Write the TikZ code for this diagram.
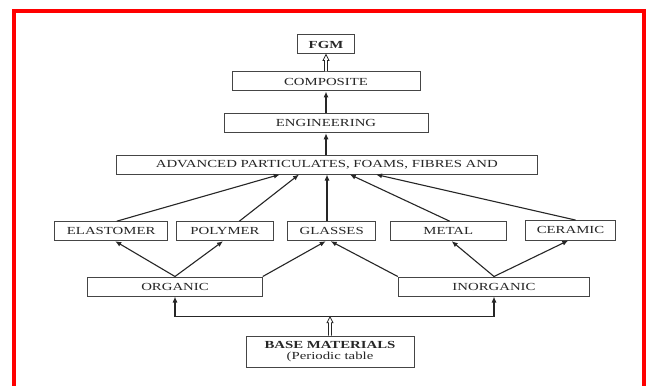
\documentclass[tikz,border=0pt]{standalone}
\usepackage{fontspec}
\setmainfont{Liberation Serif}[FakeStretch=1.37]
\usetikzlibrary{arrows.meta,calc}
\definecolor{ink}{HTML}{262626}
\definecolor{edgegray}{HTML}{454545}
\definecolor{framered}{HTML}{FF0000}
\begin{document}
\begin{tikzpicture}[x=1pt,y=-1pt,
  box/.style={draw=edgegray, line width=1pt, inner sep=0pt, text=ink,
    font=\fontsize{10.8}{11}\selectfont, anchor=center, align=center},
  arr/.style={draw=ink, line width=1.1pt, -{Latex[length=6pt,width=5pt]}},
  hollow/.style={draw=ink, line width=0.8pt, fill=white, line join=miter},
]
\clip (0,0) rectangle (647,385);
\fill[white] (0,0) rectangle (647,385);
\draw[framered, line width=4pt] (14,392) -- (14,11.3) -- (643.7,11.3) -- (643.7,392);

\node[box, minimum width=57pt, minimum height=19pt] (fgm) at (326,44.5) {\bfseries FGM};
\node[box, minimum width=188pt, minimum height=19pt] (comp) at (326,81.5) {COMPOSITE};
\node[box, minimum width=204pt, minimum height=19.5pt] (eng) at (326,123) {ENGINEERING};
\node[box, minimum width=420.5pt, minimum height=19pt] (adv) at (326.8,164.5) {ADVANCED PARTICULATES, FOAMS, FIBRES AND};

\node[box, minimum width=112.5pt, minimum height=19pt] (ela) at (111.2,231.2) {ELASTOMER};
\node[box, minimum width=97pt, minimum height=19pt] (pol) at (225,231.2) {POLYMER};
\node[box, minimum width=88.5pt, minimum height=19pt] (gla) at (331.7,231.2) {GLASSES};
\node[box, minimum width=116.6pt, minimum height=19pt] (met) at (448.3,231.2) {METAL};
\node[box, minimum width=90pt, minimum height=19.5pt] (cer) at (570.5,230.3) {CERAMIC};

\node[box, minimum width=174.5pt, minimum height=19pt] (org) at (175,286.5) {ORGANIC};
\node[box, minimum width=191.5pt, minimum height=19pt] (inorg) at (494,286.5) {INORGANIC};

\node[box, minimum width=168pt, minimum height=31pt] (base) at (330,351.5) {\bfseries BASE MATERIALS\\(Periodic table};

\coordinate (jn) at (330,316.7);

% base to organic / inorganic
\draw[arr] (jn) -| (org.south);
\draw[arr] (jn) -| (inorg.south);
\draw[hollow] ($(base.north)+(-1.5,0)$) -- ($(jn)+(-1.5,6)$) -- ($(jn)+(-3,6)$) -- (jn)
  -- ($(jn)+(3,6)$) -- ($(jn)+(1.5,6)$) -- ($(base.north)+(1.5,0)$);

% organic
\draw[arr] (org.north) -- ([xshift=4pt]ela.south);
\draw[arr] (org.north) -- ([xshift=-2pt]pol.south);
\draw[arr] (org.north east) -- ([xshift=-6pt]gla.south);
% inorganic
\draw[arr] (inorg.north west) -- ([xshift=-1pt]gla.south);
\draw[arr] (inorg.north) -- ([xshift=3.4pt]met.south);
\draw[arr] (inorg.north) -- ([xshift=-2.2pt]cer.south);

% to advanced
\draw[arr] ([xshift=5.5pt]ela.north) -- ([xshift=-47pt]adv.south);
\draw[arr] ([xshift=14.3pt]pol.north) -- ([xshift=-27.8pt]adv.south);
\draw[arr] ([xshift=-4.7pt]gla.north) -- ([xshift=0.2pt]adv.south);
\draw[arr] ([xshift=1.4pt]met.north) -- ([xshift=23pt]adv.south);
\draw[arr] ([xshift=5pt]cer.north) -- ([xshift=49.2pt]adv.south);

% vertical chain
\draw[arr] ([xshift=-0.8pt]adv.north) -- (eng.south);
\draw[arr] (eng.north) -- (comp.south);
\draw[hollow] ($(comp.north)+(-1.5,0)$) -- ($(fgm.south)+(-1.5,6)$) -- ($(fgm.south)+(-3,6)$) -- (fgm.south)
  -- ($(fgm.south)+(3,6)$) -- ($(fgm.south)+(1.5,6)$) -- ($(comp.north)+(1.5,0)$);
\end{tikzpicture}
\end{document}
